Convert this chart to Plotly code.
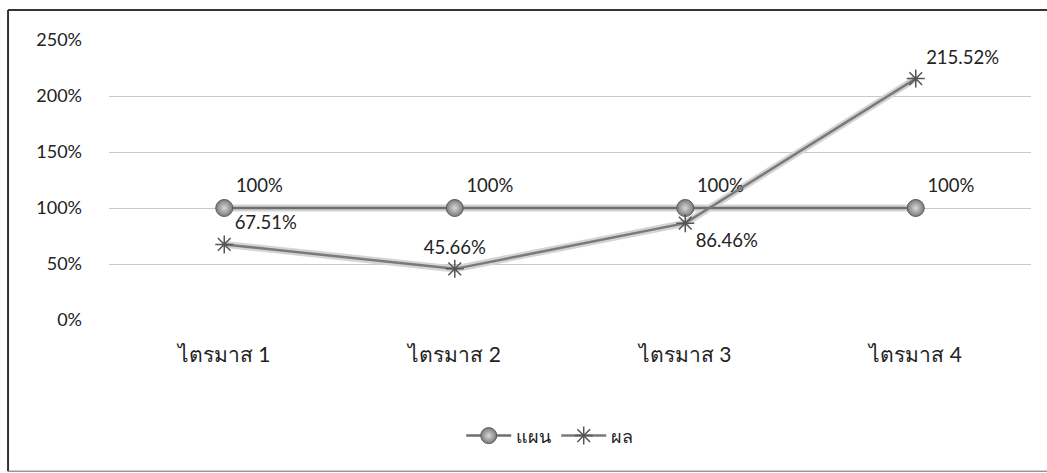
import plotly.graph_objects as go

categories = ["ไตรมาส 1", "ไตรมาส 2", "ไตรมาส 3", "ไตรมาส 4"]
plan_values = [100, 100, 100, 100]
result_values = [67.51, 45.66, 86.46, 215.52]
plan_label_pos = ["top right", "top right", "top right", "top right"]
result_label_pos = ["top right", "top center", "bottom right", "top right"]
y_ticks = [0, 50, 100, 150, 200, 250]
y_tick_text = [f"{v}%" for v in y_ticks]

NUM_FONT = "Lato, 'Noto Sans', 'DejaVu Sans', sans-serif"
fig = go.Figure()

# soft shadows under the lines
fig.add_trace(go.Scatter(x=categories, y=plan_values, mode="lines",
                         line=dict(color="#d4d4d4", width=7),
                         showlegend=False, hoverinfo="skip"))
fig.add_trace(go.Scatter(x=categories, y=result_values, mode="lines",
                         line=dict(color="#d4d4d4", width=7),
                         showlegend=False, hoverinfo="skip"))

fig.add_trace(go.Scatter(
    x=categories, y=plan_values, name="แผน",
    mode="lines+markers+text",
    line=dict(color="#6e6e6e", width=2.5),
    marker=dict(symbol="circle", size=17, color="#7a7a7a",
                gradient=dict(type="radial", color="#d8d8d8"),
                line=dict(color="#5a5a5a", width=1)),
    text=[f"{v:g}%" for v in plan_values],
    textposition=plan_label_pos,
    textfont=dict(size=18.5, color="#222222", family=NUM_FONT),
    cliponaxis=False,
))
fig.add_trace(go.Scatter(
    x=categories, y=result_values, name="ผล",
    mode="lines+markers+text",
    line=dict(color="#7a7a7a", width=2.5),
    marker=dict(symbol="asterisk-open", size=15, color="#555555",
                line=dict(color="#555555", width=1.5)),
    text=[f"{v:g}%" for v in result_values],
    textposition=result_label_pos,
    textfont=dict(size=18.5, color="#222222", family=NUM_FONT),
    cliponaxis=False,
))

fig.update_layout(
    width=1047, height=473,
    margin=dict(l=109, r=16, t=40, b=153),
    paper_bgcolor="white", plot_bgcolor="white",
    font=dict(family=NUM_FONT, color="#222222"),
    showlegend=True,
    legend=dict(orientation="h", x=0.478, xanchor="center", y=-0.414, yanchor="middle",
                font=dict(size=18, color="#222222"), traceorder="normal",
                itemwidth=45),
    xaxis=dict(showgrid=False, zeroline=False, showline=False,
               range=[-0.5, 3.5],
               tickfont=dict(size=21, color="#222222"), ticks="",
               ticklabelstandoff=20),
    yaxis=dict(range=[0, 250], tickmode="array", tickvals=y_ticks, ticktext=y_tick_text,
               showgrid=True, gridcolor="#c8c8c8", gridwidth=1,
               zeroline=False, showline=False,
               tickfont=dict(size=18, color="#222222"),
               ticklabelstandoff=26),
    shapes=[
        dict(type="line", xref="paper", yref="paper", x0=-0.1095, x1=1.02, y0=1.107, y1=1.107,
             line=dict(color="#333333", width=2)),
        dict(type="line", xref="paper", yref="paper", x0=-0.1095, x1=-0.1095, y0=1.107, y1=-0.54,
             line=dict(color="#333333", width=2)),
        dict(type="line", xref="paper", yref="paper", x0=-0.1095, x1=1.02, y0=-0.54, y1=-0.54,
             line=dict(color="#666666", width=1)),
    ],
)

fig.write_html("out.html")
